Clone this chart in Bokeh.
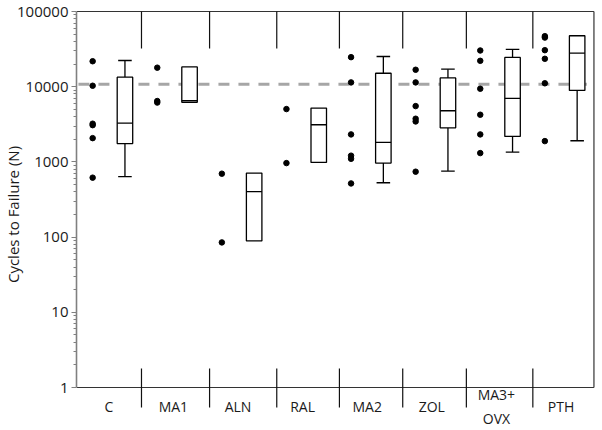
import math
from bokeh.plotting import figure
from bokeh.models import Range1d, FixedTicker, NumeralTickFormatter, ColumnDataSource
from bokeh.core.properties import value
from bokeh.embed import file_html
from bokeh.resources import INLINE

# ---------------- data ----------------
categories = ["C", "MA1", "ALN", "RAL", "MA2", "ZOL", "MA3+\nOVX", "PTH"]

pts_C = [21800, 10300, 3220, 3080, 2070, 617]
pts_MA1 = [17900, 6450, 6150]
pts_ALN = [697, 85]
pts_RAL = [5040, 964]
pts_MA2 = [24700, 11400, 2320, 1210, 1100, 517]
pts_ZOL = [16800, 11400, 5520, 3750, 3450, 741]
pts_MA3 = [30300, 22100, 9400, 4240, 2320, 1310]
pts_PTH = [47000, 45000, 30600, 23500, 11100, 1890]
points = [pts_C, pts_MA1, pts_ALN, pts_RAL, pts_MA2, pts_ZOL, pts_MA3, pts_PTH]

nan = float("nan")
whisker_low = [636, nan, nan, nan, 528, 755, 1350, 1910]
q1 = [1750, 6200, 89, 984, 964, 2840, 2180, 8910]
median = [3280, 6500, 402, 3120, 1820, 4790, 6980, 27900]
q3 = [13400, 18300, 711, 5190, 15100, 13100, 24500, 47600]
whisker_high = [22300, nan, nan, nan, 25200, 17100, 31300, 47600]

reference_level = 10800

# category boundary lines (hand-drawn in the original, slightly uneven)
separators = [1.006, 2.06, 3.10, 4.07, 5.05, 6.035, 7.064]

# ---------------- layout constants ----------------
BOX_OFF = 0.75
DOT_OFF = 0.25
BOX_W = 0.24
CAP_W = 0.21
X_END = 8.01
PX_DEC = 75.2          # pixels per decade
X_UNIT = 64.6          # pixels per category
W, H = 600, 428
LEFT = 76              # frame left (px)
TOP_PAD = 11           # px from frame top to the 100000 line
BOT_Y = 387            # px position of the value 1

FONT = "Open Sans"

p = figure(width=W, height=H,
           x_range=Range1d(0, (W - LEFT) / X_UNIT),
           y_range=Range1d(10 ** (-(H - BOT_Y) / PX_DEC), 10 ** (5 + TOP_PAD / PX_DEC)),
           y_axis_type="log", x_axis_location=None,
           output_backend="svg", toolbar_location=None,
           min_border_left=LEFT, min_border_right=0,
           min_border_top=0, min_border_bottom=0)
p.outline_line_color = None
p.xgrid.visible = False
p.ygrid.visible = False
p.background_fill_color = "white"

# y axis
ya = p.yaxis[0]
ya.ticker = FixedTicker(ticks=[1, 10, 100, 1000, 10000, 100000],
                        minor_ticks=[m * 10 ** d for d in range(5) for m in range(2, 10)])
ya.formatter = NumeralTickFormatter(format="0")
ya.bounds = (1, 100000)
ya.axis_line_color = "#808080"
ya.axis_line_width = 1.6
ya.major_tick_line_color = "#808080"
ya.minor_tick_line_color = "#808080"
ya.major_tick_out = 5
ya.major_tick_in = 0
ya.minor_tick_out = 3
ya.minor_tick_in = 0
ya.major_label_standoff = 3
ya.major_label_text_font = FONT
ya.major_label_text_font_size = "15px"
ya.major_label_text_color = "#1a1a1a"
ya.axis_label = "Cycles to Failure (N)"
ya.axis_label_text_font = FONT
ya.axis_label_text_font_size = "15px"
ya.axis_label_text_font_style = "normal"
ya.axis_label_text_color = "#1a1a1a"
ya.axis_label_standoff = -9

frame_col = "#333333"
y_top = 100000
y_bot = 1
top_sep_end = 10 ** (5 - 37 / PX_DEC)
bot_sep_start = 10 ** (19 / PX_DEC)
bot_sep_end = 10 ** (-20 / PX_DEC)

# frame lines
p.segment(x0=[0, 0, X_END], y0=[y_top, y_bot, y_bot], x1=[X_END, X_END, X_END], y1=[y_top, y_bot, y_top],
          line_color=frame_col, line_width=1.2)
# separators
p.segment(x0=separators, x1=separators, y0=[y_top] * len(separators), y1=[top_sep_end] * len(separators),
          line_color="#111111", line_width=1.2)
p.segment(x0=separators, x1=separators, y0=[bot_sep_start] * len(separators), y1=[bot_sep_end] * len(separators),
          line_color="#111111", line_width=1.2)

# reference dashed line
p.segment(x0=[0.03], x1=[7.9], y0=[reference_level], y1=[reference_level],
          line_color="#a6a6a6", line_width=3, line_dash="11 9")

# boxes
idx = list(range(len(categories)))
bx = [i + BOX_OFF for i in idx]
src = ColumnDataSource(dict(x=bx, xl=[v - CAP_W / 2 for v in bx], xr=[v + CAP_W / 2 for v in bx],
                            xbl=[v - BOX_W / 2 for v in bx], xbr=[v + BOX_W / 2 for v in bx],
                            wl=whisker_low, q1=q1, med=median, q3=q3, wh=whisker_high))
p.segment(x0="x", x1="x", y0="q3", y1="wh", source=src, line_color="black", line_width=1.3)
p.segment(x0="x", x1="x", y0="q1", y1="wl", source=src, line_color="black", line_width=1.3)
p.segment(x0="xl", x1="xr", y0="wh", y1="wh", source=src, line_color="black", line_width=1.3)
p.segment(x0="xl", x1="xr", y0="wl", y1="wl", source=src, line_color="black", line_width=1.3)
p.vbar(x="x", width=BOX_W, bottom="q1", top="q3", source=src,
       fill_color="white", line_color="black", line_width=1.3)
p.segment(x0="xbl", x1="xbr", y0="med", y1="med", source=src, line_color="black", line_width=1.3)

# points
px, py = [], []
for i, vals in enumerate(points):
    for v in vals:
        px.append(i + DOT_OFF)
        py.append(v)
p.scatter(x=px, y=py, size=5.5, color="black", marker="circle")

# category labels
p.text(x=[i + 0.5 for i in idx], y=[10 ** (-19 / PX_DEC)] * len(idx), text=categories,
       text_align="center", text_baseline="middle",
       text_font=value(FONT), text_font_size="14px", text_color="#1a1a1a",
       text_line_height=1.3)

open("out.html", "w").write(file_html(p, INLINE))
